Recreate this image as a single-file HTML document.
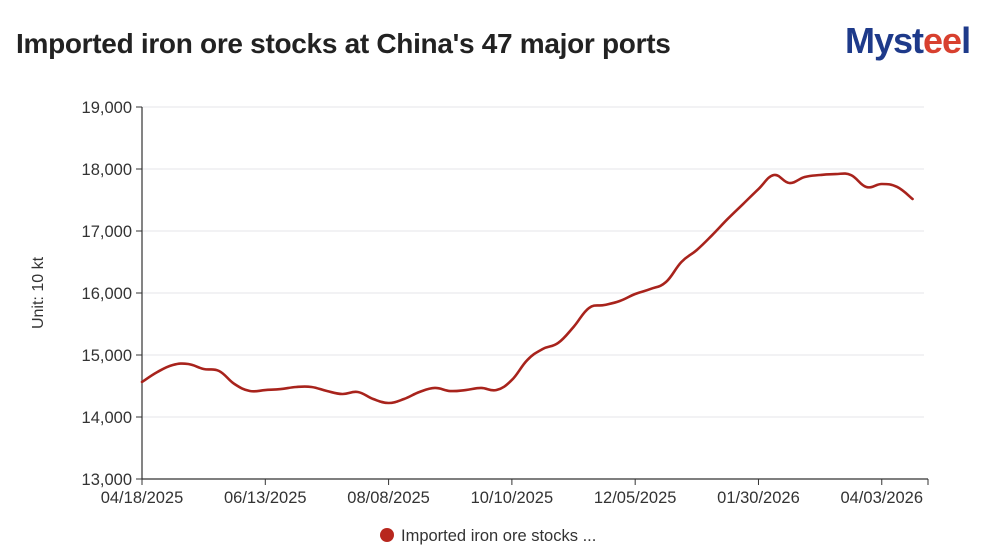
<!DOCTYPE html>
<html><head><meta charset="utf-8"><style>
html,body{margin:0;padding:0;background:#fff;}
body{width:1000px;height:558px;overflow:hidden;position:relative;font-family:"Liberation Sans",Arial,sans-serif;}
#title{position:absolute;left:16px;top:28px;font-size:28px;font-weight:bold;color:#222;letter-spacing:-0.3px;}
#logo{position:absolute;left:845px;top:20px;font-size:36px;font-weight:bold;color:#1e3a8a;letter-spacing:-1px;}
#logo span{color:#d8402f;}
</style></head><body>
<div id="title">Imported iron ore stocks at China's 47 major ports</div>
<div id="logo">Myst<span>ee</span>l</div>
<svg id="chart" width="1000" height="558" style="position:absolute;left:0;top:0"></svg>
<script>
const categories=["04/18/2025","04/25/2025","05/02/2025","05/09/2025","05/16/2025","05/23/2025","05/30/2025","06/06/2025","06/13/2025","06/20/2025","06/27/2025","07/04/2025","07/11/2025","07/18/2025","07/25/2025","08/01/2025","08/08/2025","08/15/2025","08/22/2025","08/29/2025","09/05/2025","09/12/2025","09/19/2025","09/26/2025","10/10/2025","10/17/2025","10/24/2025","10/31/2025","11/07/2025","11/14/2025","11/21/2025","11/28/2025","12/05/2025","12/12/2025","12/19/2025","12/26/2025","01/02/2026","01/09/2026","01/16/2026","01/23/2026","01/30/2026","02/06/2026","02/13/2026","02/27/2026","03/06/2026","03/13/2026","03/20/2026","03/27/2026","04/03/2026","04/10/2026","04/17/2026"];
const stocks=[14565,14726,14839,14855,14774,14742,14532,14419,14435,14450,14484,14484,14419,14371,14403,14290,14226,14290,14403,14468,14419,14435,14468,14435,14597,14919,15097,15194,15452,15758,15806,15871,15984,16065,16177,16500,16694,16935,17194,17435,17677,17903,17774,17871,17903,17919,17903,17710,17758,17710,17516];
const yTicks=[13000,14000,15000,16000,17000,18000,19000];
const xLabelIdx=[0,8,16,24,32,40,48];
const seriesName="Imported iron ore stocks ...";

const svg=document.getElementById('chart');
const NS="http://www.w3.org/2000/svg";
const X0=142,X1=928,Y0=479,Y1=107,YMIN=13000,YMAX=19000;
const step=(X1-X0)/(categories.length);
const xs=i=>X0+step*i;
const ys=v=>Y0-(v-YMIN)/(YMAX-YMIN)*(Y0-Y1);
function mk(t,a){const e=document.createElementNS(NS,t);for(const k in a)e.setAttribute(k,a[k]);svg.appendChild(e);return e;}
yTicks.forEach(v=>{
  const y=ys(v);
  if(v>YMIN){const g=mk('line',{x1:X0,x2:X1-4,y1:y,y2:y,stroke:'#e4e6ea','stroke-width':1});
  
  }
  const tk=mk('line',{x1:X0-6,x2:X0,y1:y,y2:y,stroke:'#333','stroke-width':1});
  
  
  const t=mk('text',{x:X0-10,y:y+6,'text-anchor':'end','font-size':16.5,fill:'#333'});
  t.textContent=v.toLocaleString('en-US');
  
  
});
const ya=mk('line',{x1:X0,x2:X0,y1:Y1,y2:Y0,stroke:'#333','stroke-width':1.2});


const xa=mk('line',{x1:X0,x2:X1,y1:Y0,y2:Y0,stroke:'#333','stroke-width':1.2});


xLabelIdx.concat([categories.length]).forEach(i=>{
  const tk=mk('line',{x1:xs(i),x2:xs(i),y1:Y0,y2:Y0+6,stroke:'#333','stroke-width':1});
  
  
});
xLabelIdx.forEach(i=>{
  const t=mk('text',{x:xs(i),y:Y0+24,'text-anchor':'middle','font-size':16.5,fill:'#333'});
  t.textContent=categories[i];
  
  
});
const yt=mk('text',{x:0,y:0,transform:'translate(43,293) rotate(-90)','text-anchor':'middle','font-size':16,fill:'#333'});
yt.textContent='Unit: 10 kt';


const P=stocks.map((v,i)=>[xs(i),ys(v)]);
let d='M'+P[0][0]+','+P[0][1];
for(let i=0;i<P.length-1;i++){
  const p0=P[Math.max(i-1,0)],p1=P[i],p2=P[i+1],p3=P[Math.min(i+2,P.length-1)];
  const k=0.2;
  const c1=[p1[0]+(p2[0]-p0[0])*k,p1[1]+(p2[1]-p0[1])*k];
  const c2=[p2[0]-(p3[0]-p1[0])*k,p2[1]-(p3[1]-p1[1])*k];
  d+=` C${c1[0]},${c1[1]} ${c2[0]},${c2[1]} ${p2[0]},${p2[1]}`;
}
const line=mk('path',{d:d,fill:'none',stroke:'#a8231c','stroke-width':2.6,'stroke-linejoin':'round','stroke-linecap':'round'});


const lc=mk('circle',{cx:387,cy:535,r:7,fill:'#b8271e'});


const lt=mk('text',{x:401,y:541,'font-size':16.5,fill:'#333'});
lt.textContent=seriesName;


</script>
</body></html>
